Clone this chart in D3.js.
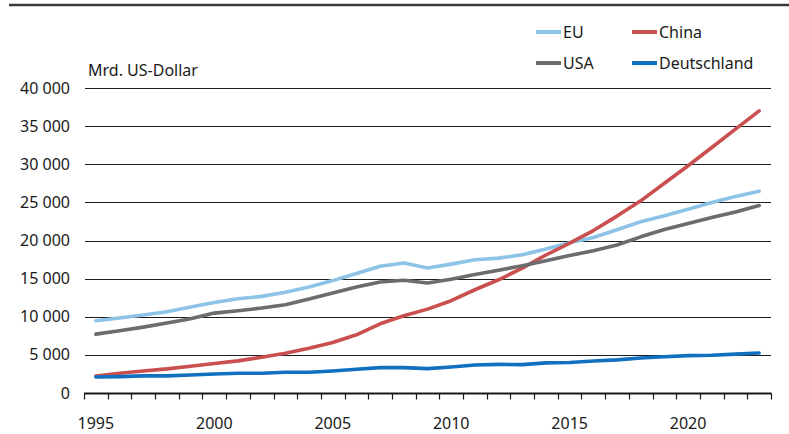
<!DOCTYPE html>
<html>
<head>
<meta charset="utf-8">
<script src="https://cdn.jsdelivr.net/npm/d3@7"></script>
<style>
  html, body { margin: 0; padding: 0; background: #fff; }
  svg { display: block; }
  text { font-family: "Noto Sans", "Open Sans", sans-serif; fill: #1a1a1a; }
</style>
</head>
<body>
<svg id="chart" width="789" height="434"></svg>
<script>
const years = d3.range(1995, 2024);
const yTicks = [0, 5000, 10000, 15000, 20000, 25000, 30000, 35000, 40000];
const xLabelYears = [1995, 2000, 2005, 2010, 2015, 2020];
const seriesNames = ["EU", "China", "USA", "Deutschland"];
const seriesColors = ["#8dc3e6", "#c9504f", "#6b6c6e", "#1170bf"];

const eu = [9470, 9830, 10220, 10650, 11270, 11880, 12370, 12670, 13200, 13900, 14740, 15660, 16620, 17060, 16400, 16900, 17470, 17690, 18120, 18900, 19700, 20400, 21400, 22450, 23250, 24100, 24980, 25770, 26460];
const china = [2240, 2590, 2890, 3160, 3510, 3860, 4210, 4700, 5220, 5880, 6620, 7630, 9080, 10130, 11000, 12100, 13540, 14850, 16380, 18100, 19650, 21300, 23200, 25200, 27500, 29800, 32200, 34600, 37000];
const usa = [7720, 8160, 8640, 9170, 9740, 10480, 10790, 11140, 11580, 12320, 13110, 13900, 14560, 14780, 14430, 14930, 15550, 16110, 16680, 17340, 18040, 18650, 19420, 20480, 21450, 22220, 23010, 23730, 24590];
const deutschland = [2100, 2150, 2240, 2240, 2370, 2500, 2590, 2590, 2720, 2720, 2890, 3110, 3330, 3330, 3200, 3410, 3670, 3750, 3720, 3950, 4000, 4200, 4350, 4600, 4750, 4900, 4950, 5100, 5250];

const seriesData = [eu, china, usa, deutschland];

const svg = d3.select("#chart");

const x = d3.scaleBand().domain(years).range([84, 771]).paddingInner(0).paddingOuter(0);
const y = d3.scaleLinear().domain([0, 40000]).range([393, 88]);

// top rule
svg.append("line").attr("x1", 9).attr("x2", 789).attr("y1", 5).attr("y2", 5)
  .attr("stroke", "#3a3a3a").attr("stroke-width", 2.5);

// gridlines
svg.append("g").selectAll("line").data(yTicks.filter(d => d > 0)).join("line")
  .attr("x1", 85).attr("x2", 771)
  .attr("y1", d => Math.round(y(d)) + 0.5).attr("y2", d => Math.round(y(d)) + 0.5)
  .attr("stroke", "#1e1e1e").attr("stroke-width", 1);

// y labels
const fmt = v => v === 0 ? "0" : d3.format(",")(v).replace(/,/g, " ");
svg.append("g").selectAll("text").data(yTicks).join("text")
  .attr("x", 70).attr("y", d => y(d)).attr("dy", "0.35em")
  .attr("text-anchor", "end").attr("font-size", 16)
  .text(d => fmt(d));

// unit label
svg.append("text").attr("x", 88).attr("y", 76).attr("font-size", 16).text("Mrd. US-Dollar");

// lines
const line = (arr) => d3.line()
  .x((d, i) => x(years[i]) + x.bandwidth() / 2)
  .y(d => y(d))(arr);

svg.append("g").selectAll("path").data(seriesData).join("path")
  .attr("d", d => line(d))
  .attr("fill", "none")
  .attr("stroke", (d, i) => seriesColors[i])
  .attr("stroke-width", 3.6)
  .attr("stroke-linejoin", "round")
  .attr("stroke-linecap", "round");

// x axis
const axisY = Math.round(y(0)) + 0.5;
svg.append("line").attr("x1", 84).attr("x2", 771.5).attr("y1", axisY).attr("y2", axisY)
  .attr("stroke", "#1a1a1a").attr("stroke-width", 2);
const tickPos = years.map(yr => x(yr)).concat([x(years[years.length - 1]) + x.bandwidth()]);
svg.append("g").selectAll("line").data(tickPos).join("line")
  .attr("x1", d => Math.round(d) + 0.5).attr("x2", d => Math.round(d) + 0.5)
  .attr("y1", axisY).attr("y2", axisY + 6)
  .attr("stroke", "#1a1a1a").attr("stroke-width", 1.2);
svg.append("g").selectAll("text").data(xLabelYears).join("text")
  .attr("x", d => x(d) + x.bandwidth() / 2).attr("y", 429)
  .attr("text-anchor", "middle").attr("font-size", 16)
  .text(d => d);

// legend
const legendPos = [[536, 32], [632, 32], [536, 63], [632, 63]];
const lg = svg.append("g").selectAll("g").data(seriesNames).join("g")
  .attr("transform", (d, i) => `translate(${legendPos[i][0]},${legendPos[i][1]})`);
lg.append("line").attr("x1", 0).attr("x2", 25).attr("y1", 0).attr("y2", 0)
  .attr("stroke", (d, i) => seriesColors[i]).attr("stroke-width", 4);
lg.append("text").attr("x", 27).attr("y", 0).attr("dy", "0.35em")
  .attr("font-size", 16).text(d => d);
</script>
</body>
</html>
